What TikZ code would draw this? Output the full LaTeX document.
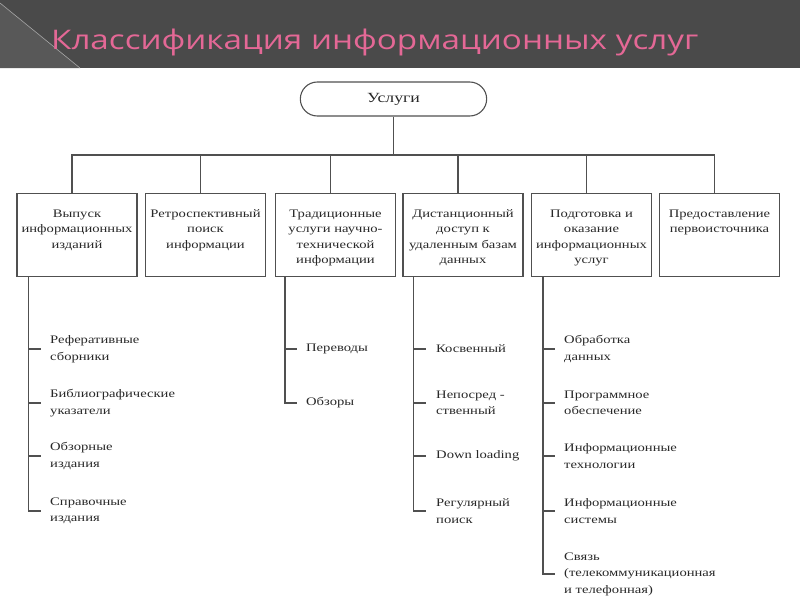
\documentclass[tikz,border=0pt]{standalone}
\usepackage{fontspec}
\setmainfont{Liberation Serif}[FakeStretch=1.27]
\newfontfamily\titlefont{Open Sans}[FakeStretch=1.23]
\usepackage{tikz}
\usetikzlibrary{shapes.misc,positioning}
\definecolor{FondoTitulo}{RGB}{74,74,74}
\definecolor{CunaTitulo}{RGB}{88,88,88}
\definecolor{RosaTitulo}{RGB}{228,104,150}
\definecolor{LineaGris}{RGB}{80,80,80}
\definecolor{TextoGris}{RGB}{40,40,40}
\newcommand{\cajatexto}[1]{\parbox[c][75pt][t]{112pt}{\centering\vspace*{12pt}#1}}
\tikzset{
  uzel/.style={draw=LineaGris, line width=1.1pt, rounded rectangle, minimum width=193pt,
    minimum height=34pt, text=TextoGris, font=\fontsize{14}{16}\selectfont},
  vid/.style={draw=LineaGris, line width=1.1pt, rectangle, inner sep=4pt,
    text=TextoGris, font=\fontsize{11.5}{15.5}\selectfont},
  punkt/.style={anchor=west, inner sep=0pt, align=left, text=TextoGris,
    font=\fontsize{11.5}{16.5}\selectfont},
  svyaz/.style={draw=LineaGris, line width=1.1pt}
}

\begin{document}
\begin{tikzpicture}[x=1pt, y=-1pt]
    \useasboundingbox (0,0) rectangle (800,600);
    % title bar
    \fill[FondoTitulo] (0,0) rectangle (800,68);
    \fill[CunaTitulo] (0,3) -- (80,68) -- (0,68) -- cycle;
    \draw[gray!70, line width=0.6pt] (0,3) -- (80,68);
    \node[anchor=base west, inner sep=0pt, RosaTitulo, font=\titlefont\fontsize{27}{30}\selectfont]
        (titul) at (51,49) {Классификация информационных услуг};

    % root and groups
    \node[uzel] (usl) at (393.5,99) {Услуги};
    \coordinate (shina) at (393.5,155);

    \node[vid, anchor=north] (b1) at (77,193)    {\cajatexto{Выпуск\\информационных\\изданий}};
    \node[vid, anchor=north] (b2) at (205.5,193) {\cajatexto{Ретроспективный\\поиск\\информации}};
    \node[vid, anchor=north] (b3) at (335.5,193) {\cajatexto{Традиционные\\услуги научно-\\технической\\информации}};
    \node[vid, anchor=north] (b4) at (463,193)   {\cajatexto{Дистанционный\\доступ к\\удаленным базам\\данных}};
    \node[vid, anchor=north] (b5) at (591.5,193) {\cajatexto{Подготовка и\\оказание\\информационных\\услуг}};
    \node[vid, anchor=north] (b6) at (719.5,193) {\cajatexto{Предоставление\\первоисточника}};

    \draw[svyaz] (usl.south) -- (shina);
    \foreach \b in {b1,b2,b3,b4,b5,b6}
        \draw[svyaz] ([xshift=-5pt]\b.north) |- (shina);

    % items under the groups
    \node[punkt] (p11) at (50,349) {Реферативные\\сборники};
    \node[punkt] (p12) at (50,403) {Библиографические\\указатели};
    \node[punkt] (p13) at (50,456) {Обзорные\\издания};
    \node[punkt] (p14) at (50,511) {Справочные\\издания};

    \node[punkt] (p31) at (306,349) {Переводы};
    \node[punkt] (p32) at (306,403) {Обзоры};

    \node[punkt] (p41) at (436,349) {Косвенный};
    \node[punkt] (p42) at (436,403) {Непосред -\\ственный};
    \node[punkt] (p43) at (436,456) {Down loading};
    \node[punkt] (p44) at (436,511) {Регулярный\\поиск};

    \node[punkt] (p51) at (564,349) {Обработка\\данных};
    \node[punkt] (p52) at (564,403) {Программное\\обеспечение};
    \node[punkt] (p53) at (564,456) {Информационные\\технологии};
    \node[punkt] (p54) at (564,511) {Информационные\\системы};
    \node[punkt] (p55) at (564,574) {Связь\\(телекоммуникационная\\и телефонная)};

    \foreach \p in {p11,p12,p13,p14}
        \draw[svyaz] ([xshift=12pt]b1.south west) |- ([xshift=-9pt]\p.west);
    \foreach \p in {p31,p32}
        \draw[svyaz] ([xshift=10pt]b3.south west) |- ([xshift=-9pt]\p.west);
    \foreach \p in {p41,p42,p43,p44}
        \draw[svyaz] ([xshift=11pt]b4.south west) |- ([xshift=-10pt]\p.west);
    \foreach \p in {p51,p52,p53,p54,p55}
        \draw[svyaz] ([xshift=12pt]b5.south west) |- ([xshift=-9pt]\p.west);
\end{tikzpicture}
\end{document}
